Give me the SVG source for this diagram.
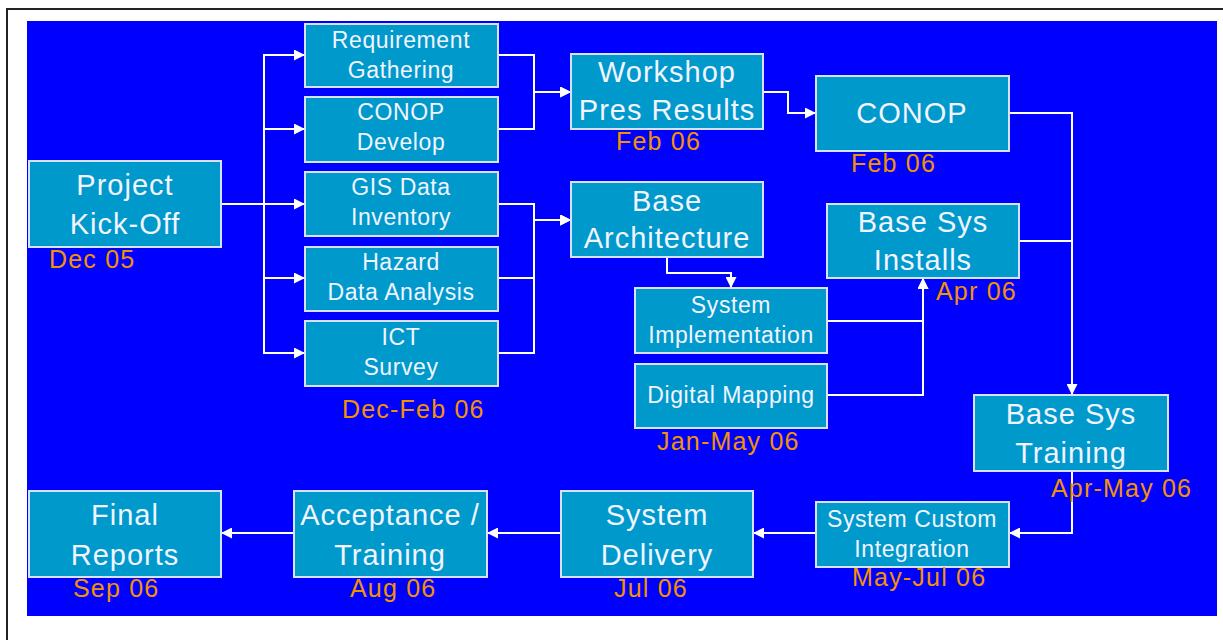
<svg xmlns="http://www.w3.org/2000/svg" width="1223" height="640" viewBox="0 0 1223 640">
<defs>
<style>
.n{fill:#0099CC;stroke:#D8E2FF;stroke-width:2}
.t{font-family:"Liberation Sans",Arial,sans-serif;fill:#F2F4FF;text-anchor:middle}
.b{font-size:29px;letter-spacing:1px}
.s{font-size:23px;letter-spacing:0.6px}
.l{font-family:"Liberation Sans",Arial,sans-serif;font-size:25px;letter-spacing:1.2px;fill:#F39200}
.c{fill:none;stroke:#FFFFFF;stroke-width:2}
</style>
<marker id="ah" viewBox="0 0 10 10" refX="10" refY="5" markerUnits="userSpaceOnUse" markerWidth="11" markerHeight="11" orient="auto">
<path d="M0,0 L10,5 L0,10 z" fill="#FFFFFF"/>
</marker>
</defs>
<rect width="1223" height="640" fill="#FFFFFF"/>
<path d="M7 640 V9 H1223" fill="none" stroke="#222222" stroke-width="2"/>
<rect x="27" y="21" width="1190" height="595" fill="#0000FF"/>

<g id="connectors">
<path class="c" d="M221 204 H264 V55 H305" marker-end="url(#ah)"/>
<path class="c" d="M221 204 H264 V129 H305" marker-end="url(#ah)"/>
<path class="c" d="M221 204 H305" marker-end="url(#ah)"/>
<path class="c" d="M221 204 H264 V278 H305" marker-end="url(#ah)"/>
<path class="c" d="M221 204 H264 V353 H305" marker-end="url(#ah)"/>
<path class="c" d="M498 55 H534 V92 H571" marker-end="url(#ah)"/>
<path class="c" d="M498 129 H534 V92 H571" marker-end="url(#ah)"/>
<path class="c" d="M498 204 H534 V220 H571" marker-end="url(#ah)"/>
<path class="c" d="M498 278 H534 V220 H571" marker-end="url(#ah)"/>
<path class="c" d="M498 353 H534 V220 H571" marker-end="url(#ah)"/>
<path class="c" d="M667 257 V273 H731 V288" marker-end="url(#ah)"/>
<path class="c" d="M763 92 H788 V113 H816" marker-end="url(#ah)"/>
<path class="c" d="M1009 113 H1072 V395" marker-end="url(#ah)"/>
<path class="c" d="M1019 241 H1072"/>
<path class="c" d="M827 321 H923 V278" marker-end="url(#ah)"/>
<path class="c" d="M827 395 H923 V278" marker-end="url(#ah)"/>
<path class="c" d="M1072 471 V533 H1009" marker-end="url(#ah)"/>
<path class="c" d="M816 533 H753" marker-end="url(#ah)"/>
<path class="c" d="M561 533 H487" marker-end="url(#ah)"/>
<path class="c" d="M294 533 H221" marker-end="url(#ah)"/>
</g>

<g id="kickoff">
<rect class="n" x="29" y="161" width="192" height="86"/>
<text class="t b" x="125" y="195">Project</text>
<text class="t b" x="125" y="234">Kick-Off</text>
<text class="l" x="49" y="268">Dec 05</text>
</g>
<g id="reqgather">
<rect class="n" x="305" y="24" width="193" height="63"/>
<text class="t s" x="401" y="48">Requirement</text>
<text class="t s" x="401" y="78">Gathering</text>
</g>
<g id="conopdev">
<rect class="n" x="305" y="97" width="193" height="65"/>
<text class="t s" x="401" y="120">CONOP</text>
<text class="t s" x="401" y="150">Develop</text>
</g>
<g id="gis">
<rect class="n" x="305" y="172" width="193" height="64"/>
<text class="t s" x="401" y="195">GIS Data</text>
<text class="t s" x="401" y="225">Inventory</text>
</g>
<g id="hazard">
<rect class="n" x="305" y="247" width="193" height="64"/>
<text class="t s" x="401" y="270">Hazard</text>
<text class="t s" x="401" y="300">Data Analysis</text>
</g>
<g id="ict">
<rect class="n" x="305" y="321" width="193" height="65"/>
<text class="t s" x="401" y="345">ICT</text>
<text class="t s" x="401" y="375">Survey</text>
<text class="l" x="342" y="418">Dec-Feb 06</text>
</g>
<g id="workshop">
<rect class="n" x="571" y="54" width="192" height="75"/>
<text class="t b" x="667" y="82">Workshop</text>
<text class="t b" x="667" y="120">Pres Results</text>
<text class="l" x="616" y="150">Feb 06</text>
</g>
<g id="basearch">
<rect class="n" x="571" y="182" width="192" height="75"/>
<text class="t b" x="667" y="211">Base</text>
<text class="t b" x="667" y="248">Architecture</text>
</g>
<g id="sysimpl">
<rect class="n" x="635" y="288" width="192" height="65"/>
<text class="t s" x="731" y="313">System</text>
<text class="t s" x="731" y="343">Implementation</text>
</g>
<g id="digmap">
<rect class="n" x="635" y="364" width="192" height="64"/>
<text class="t s" x="731" y="403">Digital Mapping</text>
<text class="l" x="657" y="450">Jan-May 06</text>
</g>
<g id="conop">
<rect class="n" x="816" y="76" width="193" height="75"/>
<text class="t b" x="912" y="123">CONOP</text>
<text class="l" x="851" y="172">Feb 06</text>
</g>
<g id="basesysinst">
<rect class="n" x="827" y="204" width="192" height="74"/>
<text class="t b" x="923" y="232">Base Sys</text>
<text class="t b" x="923" y="270">Installs</text>
<text class="l" x="936" y="300">Apr 06</text>
</g>
<g id="basesystrain">
<rect class="n" x="974" y="395" width="194" height="76"/>
<text class="t b" x="1071" y="424">Base Sys</text>
<text class="t b" x="1071" y="463">Training</text>
<text class="l" x="1051" y="497">Apr-May 06</text>
</g>
<g id="custinteg">
<rect class="n" x="816" y="502" width="193" height="65"/>
<text class="t s" x="912" y="527">System Custom</text>
<text class="t s" x="912" y="557">Integration</text>
<text class="l" x="852" y="586">May-Jul 06</text>
</g>
<g id="delivery">
<rect class="n" x="561" y="491" width="192" height="86"/>
<text class="t b" x="657" y="525">System</text>
<text class="t b" x="657" y="565">Delivery</text>
<text class="l" x="614" y="597">Jul 06</text>
</g>
<g id="acceptance">
<rect class="n" x="294" y="491" width="193" height="86"/>
<text class="t b" x="390" y="525">Acceptance /</text>
<text class="t b" x="390" y="565">Training</text>
<text class="l" x="350" y="597">Aug 06</text>
</g>
<g id="final">
<rect class="n" x="29" y="491" width="192" height="86"/>
<text class="t b" x="125" y="525">Final</text>
<text class="t b" x="125" y="565">Reports</text>
<text class="l" x="73" y="597">Sep 06</text>
</g>
</svg>
